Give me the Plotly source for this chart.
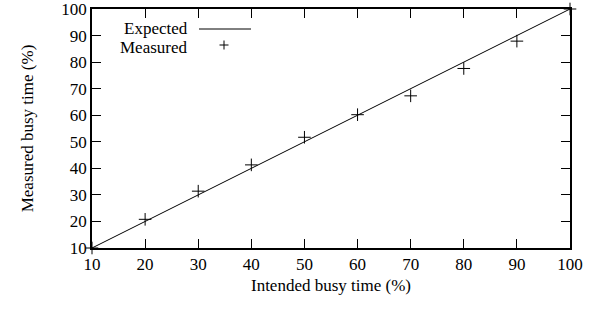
import plotly.graph_objects as go

intended = [10, 20, 30, 40, 50, 60, 70, 80, 90, 100]
measured = [10, 20.8, 31.4, 41.3, 51.7, 60.2, 67.3, 77.6, 87.9, 100]
expected_x = [10, 100]
expected_y = [10, 100]
ticks = [10, 20, 30, 40, 50, 60, 70, 80, 90, 100]

font = dict(family="Liberation Serif", size=17, color="black")

L, T, R, B = 92, 9, 27, 74
W, H = 597, 322
PW, PH = W - L - R, H - T - B

fig = go.Figure()
fig.add_trace(go.Scatter(x=expected_x, y=expected_y, mode="lines",
                         line=dict(color="black", width=1), showlegend=False))
fig.add_trace(go.Scatter(x=intended, y=measured, mode="markers",
                         marker=dict(symbol="cross-thin", size=9,
                                     line=dict(color="black", width=1)),
                         showlegend=False, cliponaxis=False))

axis_common = dict(ticks="inside", ticklen=9, tickwidth=1, tickcolor="black",
                   showline=True, linecolor="black", linewidth=1.5,
                   mirror="allticks", showgrid=False, zeroline=False,
                   tickfont=font, range=[10, 100], tickvals=ticks,
                   ticklabeloverflow="allow")

fig.update_layout(
    width=W, height=H,
    margin=dict(l=L, r=R, t=T, b=B, autoexpand=False),
    plot_bgcolor="white", paper_bgcolor="white",
    font=font,
    xaxis=dict(title=dict(text="Intended busy time (%)", font=font, standoff=6), **axis_common),
    yaxis=dict(title=dict(text="Measured busy time (%)", font=font, standoff=23), **axis_common),
)


def px(x):
    return (x - L) / PW


def py(y):
    return 1 - (y - T) / PH


# gnuplot-style legend (text right-aligned, sample to the right)
fig.add_annotation(xref="paper", yref="paper", x=px(189), y=py(28.5), borderpad=0,
                   text="Expected", showarrow=False, xanchor="right", yanchor="middle", font=font)
fig.add_annotation(xref="paper", yref="paper", x=px(189), y=py(47.5), borderpad=0,
                   text="Measured", showarrow=False, xanchor="right", yanchor="middle", font=font)
fig.add_shape(type="line", xref="paper", yref="paper",
              x0=px(199), x1=px(251), y0=py(29), y1=py(29),
              line=dict(color="black", width=1))
fig.add_shape(type="line", xref="paper", yref="paper",
              x0=px(219.5), x1=px(228.5), y0=py(45), y1=py(45),
              line=dict(color="black", width=1))
fig.add_shape(type="line", xref="paper", yref="paper",
              x0=px(224), x1=px(224), y0=py(40.5), y1=py(49.5),
              line=dict(color="black", width=1))

fig.write_html("out.html", config={"displayModeBar": False},
               post_script="document.body.style.margin='0';")
